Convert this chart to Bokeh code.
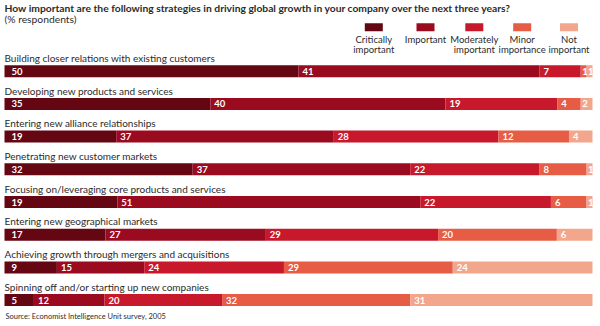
import numpy as np
from bokeh.plotting import figure
from bokeh.models import Range1d, ColumnDataSource, Label
from bokeh.core.properties import value
from bokeh.embed import file_html
from bokeh.resources import INLINE

# ---------------- data ----------------
title = "How important are the following strategies in driving global growth in your company over the next three years?"
subtitle = "(% respondents)"
source_note = "Source: Economist Intelligence Unit survey, 2005"
categories = [
    "Building closer relations with existing customers",
    "Developing new products and services",
    "Entering new alliance relationships",
    "Penetrating new customer markets",
    "Focusing on/leveraging core products and services",
    "Entering new geographical markets",
    "Achieving growth through mergers and acquisitions",
    "Spinning off and/or starting up new companies",
]
levels = ["Critically important", "Important", "Moderately important", "Minor importance", "Not important"]
legend_lines = [("Critically", "important"), ("Important", ""), ("Moderately", "important"),
                ("Minor", "importance"), ("Not", "important")]
critically = [50, 35, 19, 32, 19, 17, 9, 5]
important = [41, 40, 37, 37, 51, 27, 15, 12]
moderately = [7, 19, 28, 22, 22, 29, 24, 20]
minor = [1, 4, 12, 8, 6, 20, 29, 32]
not_important = [1, 2, 4, 1, 1, 6, 24, 31]
colors = ["#650613", "#9b0b1f", "#c8192c", "#e65c45", "#f2a68c"]

# ---------------- layout (pixels) ----------------
W, H = 600, 326
X0, X1 = 4.0, 592.0           # pixel span of a full bar
ppu = (X1 - X0) / 100.0       # pixels per percent
row0, row_step, bar_h = 70.7, 32.7, 12.0
FONT = "Lato"
TXT = "#2b2b2b"

def px_x(px):
    return (px - X0) / ppu

p = figure(width=W, height=H, output_backend="svg", toolbar_location=None,
           x_range=Range1d(px_x(0), px_x(W)), y_range=Range1d(H, 0),
           min_border=0, min_border_left=0, min_border_right=0,
           min_border_top=0, min_border_bottom=0)
p.axis.visible = False
p.grid.visible = False
p.outline_line_color = None
p.background_fill_color = "white"
p.border_fill_color = "white"

series = [critically, important, moderately, minor, not_important]
vals = np.array(series, dtype=float).T          # rows x levels
norm = vals / vals.sum(axis=1, keepdims=True) * 100.0
left = np.cumsum(norm, axis=1) - norm
centers = [row0 + i * row_step for i in range(len(categories))]

for j, col in enumerate(colors):
    src = ColumnDataSource(dict(y=centers, left=left[:, j], right=left[:, j] + norm[:, j]))
    p.hbar(y="y", left="left", right="right", height=bar_h, fill_color=col,
           line_color=None, source=src)

# value labels
lx, ly, lt, lo = [], [], [], []
for i in range(len(categories)):
    for j in range(len(colors)):
        lx.append(left[i, j])
        ly.append(centers[i])
        lt.append(str(int(vals[i, j])))
        lo.append(7 if j == 0 else (4 if norm[i, j] * ppu > 12 else 1.5))
p.text(x="x", y="y", text="t", x_offset="o",
       source=ColumnDataSource(dict(x=lx, y=ly, t=lt, o=lo)),
       text_color="white", text_font=value(FONT), text_font_size="9.5px",
       text_font_style="bold", text_baseline="middle", text_align="left")

# category labels
p.text(x=[0] * len(categories), y=[c - 13.3 for c in centers], text=categories,
       text_color=TXT, text_font=value(FONT), text_font_size="10px",
       text_baseline="middle", text_align="left")

# legend
leg_cx = [373.3, 425.0, 473.8, 521.7, 568.5]
p.rect(x=[px_x(c) for c in leg_cx], y=[26.7] * 5, width=18 / ppu, height=8,
       fill_color=colors, line_color=None)
p.text(x=[px_x(c) for c in leg_cx], y=[39.3] * 5, text=[a for a, b in legend_lines],
       text_color=TXT, text_font=value(FONT), text_font_size="9.5px",
       text_baseline="middle", text_align="center")
p.text(x=[px_x(c) for c in leg_cx], y=[48.7] * 5, text=[b for a, b in legend_lines],
       text_color=TXT, text_font=value(FONT), text_font_size="9.5px",
       text_baseline="middle", text_align="center")

# title, subtitle, source
p.add_layout(Label(x=4, y=H - 7.5, x_units="screen", y_units="screen", text=title,
                   text_font=FONT, text_font_size="10.3px", text_font_style="bold",
                   text_color=TXT, text_baseline="middle"))
p.add_layout(Label(x=4, y=H - 18.5, x_units="screen", y_units="screen", text=subtitle,
                   text_font=FONT, text_font_size="10.3px",
                   text_color=TXT, text_baseline="middle"))
p.add_layout(Label(x=5, y=H - 316, x_units="screen", y_units="screen", text=source_note,
                   text_font=FONT, text_font_size="7.5px",
                   text_color=TXT, text_baseline="middle"))

open("out.html", "w").write(file_html(p, INLINE))
